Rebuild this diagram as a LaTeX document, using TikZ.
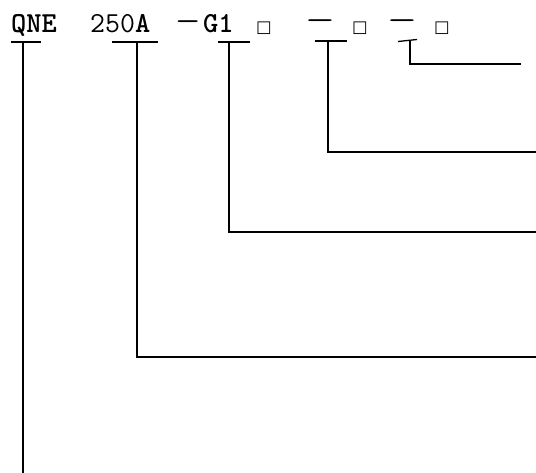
\documentclass[tikz,border=0pt]{standalone}
\usepackage{fontspec}
\newfontfamily\boxfont{DejaVu Sans}
\begin{document}
\begin{tikzpicture}[
  x=1pt, y=1pt,
  every node/.style={inner sep=0pt, anchor=base west, font=\ttfamily\fontsize{29}{31}\selectfont},
  markbox/.style={font=\boxfont\fontsize{16.5}{18}\selectfont},
  lead/.style={line width=1.3pt},
]
  \useasboundingbox (0,0) rectangle (536,-473);

  % Row 0: model code
  \node (qne) at (11,-33) {\textbf{QNE}};
  \node (num) at (90,-33) {250\textbf{A}};
  \node (dashA) at (175,-33) {\raisebox{2pt}{\scalebox{1.7}[1]{—}}};
  \node (grp) at (203,-33) {\textbf{G1}};
  \node[markbox] (boxA) at (256,-33) {□};
  \node (dashB) at (305,-33) {\raisebox{3pt}{\scalebox{2}[1]{—}}};
  \node[markbox] (boxB) at (352,-33) {□};
  \node (dashC) at (387,-33) {\raisebox{3pt}{\scalebox{2}[1]{—}}};
  \node[markbox] (boxC) at (434,-33) {□};

  % Taps on the underlines and free ends
  \coordinate (qneT) at (23,-42);   \coordinate (qneE) at (23,-473);
  \coordinate (numT) at (137,-42);  \coordinate (numE) at (536,-357);
  \coordinate (grpT) at (229,-42);  \coordinate (grpE) at (536,-232);
  \coordinate (boxBT) at (328,-41); \coordinate (boxBE) at (536,-152);
  \coordinate (boxCT) at (410,-41); \coordinate (boxCE) at (521,-64);

  % Underlines
  \draw[lead] ([xshift=-12pt]qneT) -- ([xshift=18pt]qneT);
  \draw[lead] ([xshift=-25pt]numT) -- ([xshift=21pt]numT);
  \draw[lead] ([xshift=-11pt]grpT) -- ([xshift=21pt]grpT);
  \draw[lead] ([xshift=-13pt]boxBT) -- ([xshift=19pt]boxBT);
  \draw[lead] ([xshift=-12pt,yshift=-0.5pt]boxCT) -- ([xshift=7pt,yshift=1.5pt]boxCT);

  % Leaders
  \draw[lead] (qneT) -- (qneE);
  \draw[lead] (numT) |- (numE);
  \draw[lead] (grpT) |- (grpE);
  \draw[lead] (boxBT) |- (boxBE);
  \draw[lead] (boxCT) |- (boxCE);
\end{tikzpicture}
\end{document}
